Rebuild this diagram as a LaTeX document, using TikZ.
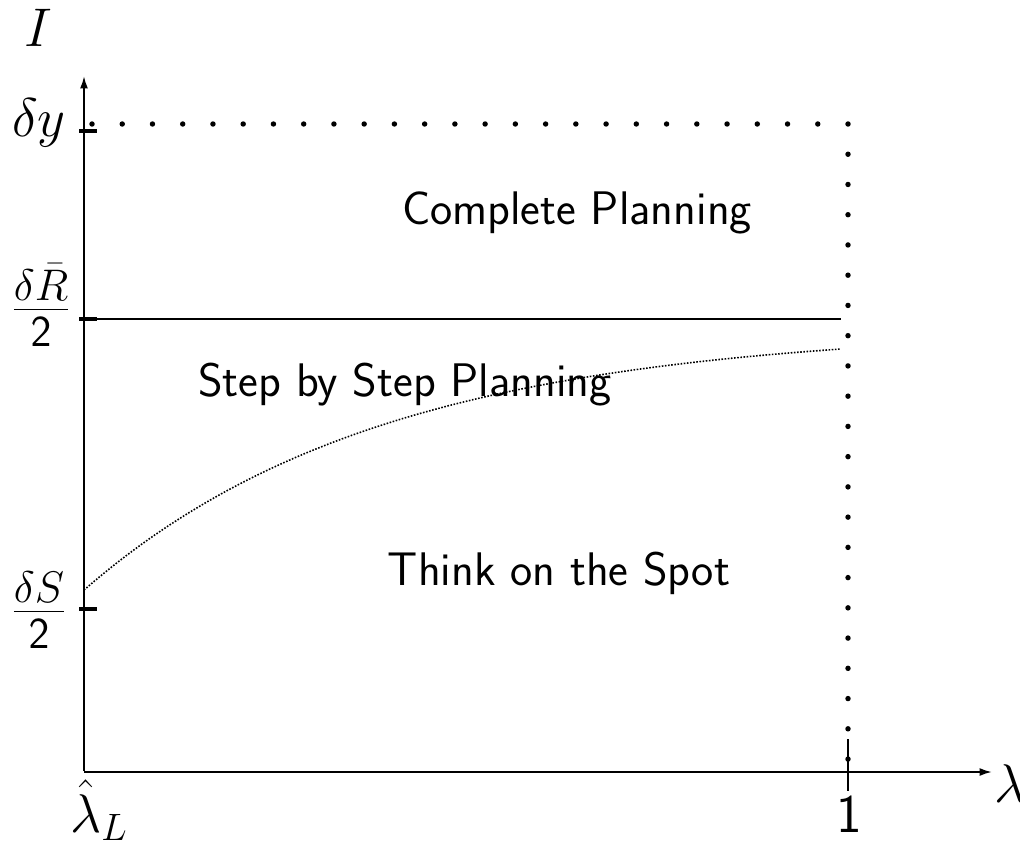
\RequirePackage{fix-cm}
\documentclass[tikz,border=0pt]{standalone}
\usetikzlibrary{arrows.meta}
\begin{document}
\begin{tikzpicture}[x=0.02cm,y=-0.02cm,
  axis/.style={line width=1.1pt,-{Latex[length=7pt,width=4.5pt]}},
  tickmark/.style={line width=2.4pt},
  thintick/.style={line width=1.1pt},
  region/.style={font=\fontsize{26.8}{32}\selectfont\sffamily,inner sep=0pt,anchor=base},
  lab/.style={font=\fontsize{31}{36}\selectfont,inner sep=0pt},
  fraclab/.style={font=\fontsize{36}{42}\selectfont,inner sep=0pt,anchor=base},
  bigdot/.style={fill=black}]
\useasboundingbox (0,0) rectangle (1020,845);
% axes
\coordinate (O) at (84,771);
\coordinate (ytop) at (84,76);
\coordinate (xend) at (992,772);
\draw[axis] (O) -- (ytop);
\draw[axis] (84,772) -- (xend);
% ticks on y axis
\coordinate (ty1) at (79,131); \coordinate (ty2) at (97,131);
\draw[tickmark] (ty1) -- (ty2);
\coordinate (tr1) at (79,319); \coordinate (tr2) at (97,319);
\draw[tickmark] (tr1) -- (tr2);
\coordinate (ts1) at (79,609); \coordinate (ts2) at (97,609);
\draw[tickmark] (ts1) -- (ts2);
% tick at 1
\coordinate (t11) at (848,739); \coordinate (t12) at (848,791);
\draw[thintick] (t11) -- (t12);
% horizontal line at dR/2
\coordinate (hr) at (841,319);
\draw[line width=1.1pt] (tr2) -- (hr);
% dotted curve
\draw[line width=0.9pt,dash pattern=on 0.9pt off 0.9pt]
  plot[domain=84:841,samples=80] (\x,{328+262*exp(-(\x-84)/300)});
% big dotted boundary
\foreach \i in {0,...,25} \fill[bigdot] (92+\i*30.24,124) circle[radius=1.55pt];
\foreach \i in {1,...,21} \fill[bigdot] (848,124+\i*30.24) circle[radius=1.55pt];
% region labels
\node[region] (cp) at (577,224) {Complete Planning};
\node[region] (sp) at (405,396) {Step by Step Planning};
\node[region] (ts) at (559,585) {Think on the Spot};
% axis labels
\node[lab,anchor=base] (I) at (38,46) {$I$};
\node[lab,anchor=base east] (dy) at (66,136) {$\delta y$};
\node[fraclab] (dR) at (41,325) {$\frac{\delta\bar R}{\mathsf{2}}$};
\node[fraclab] (dS) at (39,627) {$\frac{\delta S}{\mathsf{2}}$};
\node[lab,anchor=base west] (lL) at (70,832) {$\hat\lambda_L$};
\node[lab,anchor=base] (one) at (849,832) {$\mathsf{1}$};
\node[lab,anchor=base west] (lam) at (994,802) {$\lambda$};
\end{tikzpicture}
\end{document}
